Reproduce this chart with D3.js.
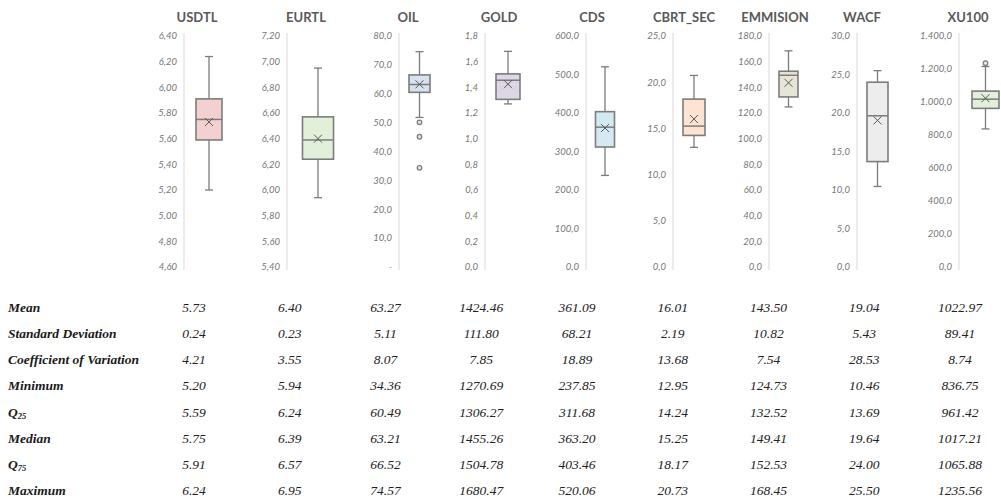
<!DOCTYPE html>
<html>
<head>
<meta charset="utf-8">
<script src="https://cdn.jsdelivr.net/npm/d3@7"></script>
<style>
  html, body { margin: 0; padding: 0; background: #ffffff; }
  svg { display: block; }
</style>
</head>
<body>
<svg id="chart" width="1001" height="501"></svg>
<script>
// Descriptive statistics of nine indicators
const series = ["USDTL", "EURTL", "OIL", "GOLD", "CDS", "CBRT_SEC", "EMMISION", "WACF", "XU100"];
const meanValues   = [5.73, 6.40, 63.27, 1424.46, 361.09, 16.01, 143.50, 19.04, 1022.97];
const stdDev       = [0.24, 0.23, 5.11, 111.80, 68.21, 2.19, 10.82, 5.43, 89.41];
const coefVar      = [4.21, 3.55, 8.07, 7.85, 18.89, 13.68, 7.54, 28.53, 8.74];
const minimum      = [5.20, 5.94, 34.36, 1270.69, 237.85, 12.95, 124.73, 10.46, 836.75];
const q25          = [5.59, 6.24, 60.49, 1306.27, 311.68, 14.24, 132.52, 13.69, 961.42];
const medianValues = [5.75, 6.39, 63.21, 1455.26, 363.20, 15.25, 149.41, 19.64, 1017.21];
const q75          = [5.91, 6.57, 66.52, 1504.78, 403.46, 18.17, 152.53, 24.00, 1065.88];
const maximum      = [6.24, 6.95, 74.57, 1680.47, 520.06, 20.73, 168.45, 25.50, 1235.56];

// Whisker ends (1.5 IQR rule) and points beyond them
const whiskerLow  = [5.20, 5.94, 51.8, 1270.69, 237.85, 12.95, 124.73, 10.46, 836.75];
const whiskerHigh = [6.24, 6.95, 74.57, 1680.47, 520.06, 20.73, 168.45, 25.50, 1215.0];
const outliers    = [[], [], [50.1, 45.1, 34.36], [], [], [], [], [], [1235.56]];

// Value axes of each panel
const axisMin  = [4.6, 5.4, 0, 0, 0, 0, 0, 0, 0];
const axisMax  = [6.4, 7.2, 80, 1800, 600, 25, 180, 30, 1400];
const axisStep = [0.2, 0.2, 10, 200, 100, 5, 20, 5, 200];
const axisDecimals = [2, 2, 1, 1, 1, 1, 1, 1, 1];
const axisDivisor  = [1, 1, 1, 1000, 1, 1, 1, 1, 1];   // gold axis is labelled in thousands

// Table rows
const rowLabels = ["Mean", "Standard Deviation", "Coefficient of Variation", "Minimum", "Q|25", "Median", "Q|75", "Maximum"];
const rowValues = [meanValues, stdDev, coefVar, minimum, q25, medianValues, q75, maximum];

// ---- panel geometry and styling ----
const axisX    = [184, 287, 399, 485, 586, 673, 769, 857, 959];
const boxX     = [209, 318, 419.5, 508, 605, 694, 788.5, 877.5, 985.5];
const boxW     = [26, 31, 21, 24, 19, 22, 19, 21, 27];
const titleX   = [197, 306, 408, 499, 592, 684, 775, 862, 968];
const boxFill  = ["#f3d1d0", "#e2efd9", "#d6e2ef", "#ddd6e5", "#d3eaf2", "#fde3d1", "#e7e6d6", "#ededed", "#e2efd9"];
const plotTop = 36, plotBottom = 267;

const svg = d3.select("#chart");
const locale = d3.formatLocale({ decimal: ",", thousands: ".", grouping: [3], currency: ["", ""] });

const panelFont = "Lato, 'Open Sans', sans-serif";

series.forEach((name, i) => {
  const y = d3.scaleLinear().domain([axisMin[i], axisMax[i]]).range([plotBottom, plotTop]);
  const g = svg.append("g");

  // title
  g.append("text")
    .attr("x", titleX[i]).attr("y", 22)
    .attr("text-anchor", "middle")
    .attr("font-family", panelFont)
    .attr("font-weight", "bold")
    .attr("font-size", 13)
    .attr("fill", "#595959")
    .text(name);

  // vertical axis line
  g.append("line")
    .attr("x1", axisX[i]).attr("x2", axisX[i])
    .attr("y1", plotTop - 3).attr("y2", plotBottom + 3)
    .attr("stroke", "#d9d9d9").attr("stroke-width", 1);

  // tick labels
  const fmt = locale.format(",." + axisDecimals[i] + "f");
  const n = Math.round((axisMax[i] - axisMin[i]) / axisStep[i]);
  const ticks = d3.range(n + 1).map(k => axisMin[i] + k * axisStep[i]);
  g.selectAll("text.tick").data(ticks).join("text")
    .attr("class", "tick")
    .attr("x", axisX[i] - 7)
    .attr("y", d => y(d))
    .attr("dy", "0.35em")
    .attr("text-anchor", "end")
    .attr("font-family", panelFont)
    .attr("font-style", "italic")
    .attr("font-size", 9.5)
    .attr("fill", "#767676")
    .text(d => (name === "OIL" && d === 0) ? "-" : fmt(d / axisDivisor[i]));

  const cx = boxX[i], w = boxW[i];
  const stroke = "#7c7c7c";

  // whiskers
  g.append("line")
    .attr("x1", cx).attr("x2", cx)
    .attr("y1", y(whiskerHigh[i])).attr("y2", y(q75[i]))
    .attr("stroke", stroke).attr("stroke-width", 1.3);
  g.append("line")
    .attr("x1", cx).attr("x2", cx)
    .attr("y1", y(q25[i])).attr("y2", y(whiskerLow[i]))
    .attr("stroke", stroke).attr("stroke-width", 1.3);
  [whiskerHigh[i], whiskerLow[i]].forEach(v => {
    g.append("line")
      .attr("x1", cx - 4).attr("x2", cx + 4)
      .attr("y1", y(v)).attr("y2", y(v))
      .attr("stroke", stroke).attr("stroke-width", 1.3);
  });

  // box
  g.append("rect")
    .attr("x", cx - w / 2).attr("width", w)
    .attr("y", y(q75[i])).attr("height", y(q25[i]) - y(q75[i]))
    .attr("fill", boxFill[i])
    .attr("stroke", stroke).attr("stroke-width", 1.6);

  // median line
  g.append("line")
    .attr("x1", cx - w / 2).attr("x2", cx + w / 2)
    .attr("y1", y(medianValues[i])).attr("y2", y(medianValues[i]))
    .attr("stroke", stroke).attr("stroke-width", 1.5);

  // mean marker
  const my = y(meanValues[i]), s = 4;
  g.append("path")
    .attr("d", `M${cx - s},${my - s}L${cx + s},${my + s}M${cx - s},${my + s}L${cx + s},${my - s}`)
    .attr("stroke", "#595959").attr("stroke-width", 1).attr("fill", "none");

  // outliers
  g.selectAll("circle.outlier").data(outliers[i]).join("circle")
    .attr("class", "outlier")
    .attr("cx", cx).attr("cy", d => y(d)).attr("r", 2.3)
    .attr("fill", boxFill[i])
    .attr("stroke", stroke).attr("stroke-width", 1.2);
});

// ---- statistics table ----
const colX = d3.scaleLinear().domain([0, 1]).range([194, 194 + 95.75]);
const rowY = d3.scaleLinear().domain([0, 1]).range([312, 312 + 26.15]);
const serif = "'Liberation Serif', 'Times New Roman', serif";
const table = svg.append("g");

rowLabels.forEach((label, r) => {
  const t = table.append("text")
    .attr("x", 8).attr("y", rowY(r))
    .attr("font-family", serif)
    .attr("font-weight", "bold")
    .attr("font-style", "italic")
    .attr("font-size", 13.5)
    .attr("fill", "#1a1a1a");
  const parts = label.split("|");
  t.append("tspan").text(parts[0]);
  if (parts[1]) {
    t.append("tspan").attr("font-size", 8.5).attr("dy", 2).text(parts[1]);
  }

  table.selectAll(null).data(rowValues[r]).join("text")
    .attr("x", (d, c) => colX(c))
    .attr("y", rowY(r))
    .attr("text-anchor", "middle")
    .attr("font-family", serif)
    .attr("font-style", "italic")
    .attr("font-size", 13.5)
    .attr("fill", "#222222")
    .text(d => d.toFixed(2));
});
</script>
</body>
</html>
